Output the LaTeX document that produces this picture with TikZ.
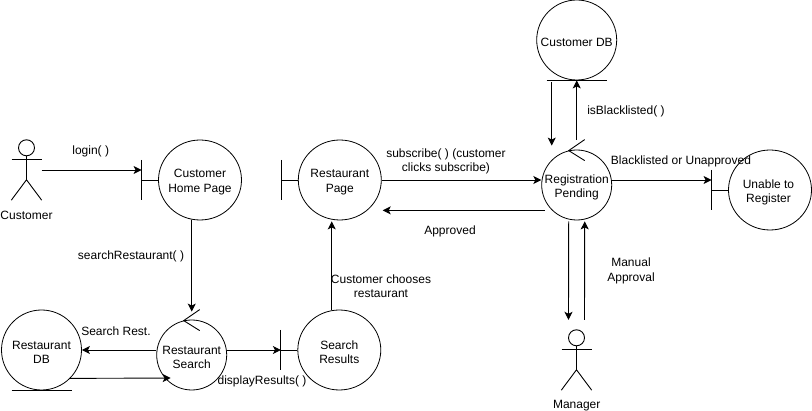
\documentclass[tikz,border=0pt]{standalone}
\usepackage{fontspec}
\setmainfont{Liberation Sans}
\usetikzlibrary{arrows.meta,calc,shapes.geometric}
\tikzset{
  lbl/.style={inner sep=0pt,align=center,yshift=-1pt,font=\fontsize{12}{14.4}\selectfont},
  ent/.style={circle,draw=black,line width=0.8pt,inner sep=0pt,minimum size=80pt},
  bnd/.style={ellipse,draw=black,line width=0.8pt,inner sep=0pt,minimum width=83pt,minimum height=80pt},
  ctl/.style={ent,minimum size=70pt},
  bar/.style={line width=0.9pt},
  flow/.style={line width=0.9pt,-{Stealth[length=8pt,width=8pt,inset=2pt]}},
  actorbox/.style={inner sep=0pt,minimum width=30pt,minimum height=60pt},
  txt/.style={label={[lbl,yshift=-1.2pt]center:#1}},
  txtleft/.style={label={[lbl,yshift=-1.2pt,xshift=-1.5pt]center:#1}},
}
\newcommand{\stickman}[1]{%
  \draw[bar] ($(#1.north)+(0,8)$) circle (8pt);
  \draw[bar] ($(#1.north)+(0,16)$) -- ($(#1.north)+(0,40)$);
  \draw[bar] ($(#1.north)+(-15,20)$) -- ($(#1.north)+(15,20)$);
  \draw[bar] (#1.south west) -- ($(#1.north)+(0,40)$) -- (#1.south east);
}
\newcommand{\boundary}[2]{%
  \coordinate (#1) at ($(#2.west)+(-16.5,0)$);
  \draw[bar] ($(#1)+(0,-20)$) -- ($(#1)+(0,20)$);
  \draw[bar] (#1) -- (#2.west);
}
\newcommand{\ticks}[1]{%
  \draw[bar] ($(#1.north)+(8,-10)$) -- ($(#1.north)+(-8,1)$) -- ($(#1.north)+(8,11)$);
}
\begin{document}
\begin{tikzpicture}[x=1pt,y=-1pt]
\useasboundingbox (0,0) rectangle (812,411);
% entities
\node[bnd,txt={Customer\\Home Page}] (chp) at (200,180) {};
\node[bnd,txt={Restaurant\\Page}] (rpage) at (339.8,180) {};
\node[bnd,txt={Search\\Results}] (sres) at (339.3,350) {};
\node[ent,txt={Restaurant\\DB}] (rdb) at (41.5,350) {};
\node[ent,txt={Customer DB}] (cdb) at (576.7,40) {};
\node[bnd,txtleft={Unable to\\Register}] (unable) at (770,190) {};
\node[ctl,txt={Restaurant\\Search}] (rsearch) at (191.7,355) {};
\node[ctl,txt={Registration\\Pending}] (regp) at (576.7,185) {};
\node[actorbox] (cust) at (26.5,170) {};
\node[actorbox] (mgr) at (576.5,360) {};
\stickman{cust}
\stickman{mgr}
\boundary{bchp}{chp}
\boundary{brpage}{rpage}
\boundary{bsres}{sres}
\boundary{bunable}{unable}
\ticks{rsearch}
\ticks{regp}
\draw[bar] ($(rdb.south)+(-30,0)$) -- ($(rdb.south)+(30,0)$);
\draw[bar] ($(cdb.south)+(-30,0)$) -- ($(cdb.south)+(30,0)$);
% connectors
\draw[flow] (cust.east) -- (bchp |- cust.east);
\draw[flow] ([xshift=-8.3pt]chp.south) -- ([yshift=8pt]rsearch.north);
\draw[flow] (rsearch.west |- rdb.east) -- (rdb.east);
\draw[flow] ($(rdb.south)+(28,-12)$) -- ($(rsearch.south west)+(4,-2)$);
\draw[flow] (rsearch.east |- bsres) -- (bsres);
\draw[flow] ([xshift=-7.6pt]sres.north) -- ([xshift=-8.1pt,yshift=-1pt]rpage.south);
\draw[flow] (rpage.east) -- (regp.west |- rpage.east);
\draw[flow] ([xshift=-32pt,yshift=10pt]regp.south) -- ([xshift=1pt,yshift=10pt]rpage.east |- rpage.south);
\draw[flow] (regp.east |- bchp) -- (bunable |- bchp);
\draw[flow] ([xshift=-25pt,yshift=-2pt]cdb.south) -- ([xshift=-25pt,yshift=4pt]regp.north);
\draw[flow] ([yshift=10pt]regp.north) -- (cdb.south);
\draw[flow] ([xshift=-8pt,yshift=-1pt]regp.south) -- ([xshift=-8pt,yshift=10pt]mgr.north);
\draw[flow] ([xshift=8pt,yshift=10pt]mgr.north) -- ([xshift=8pt,yshift=-1pt]regp.south);
% labels
\node[lbl] (t1) at (26.5,214.5) {Customer};
\node[lbl] (t2) at (90.7,150.5) {login( )};
\node[lbl] (t3) at (131,255.5) {searchRestaurant( )};
\node[lbl] (t4) at (116,330) {Search Rest.};
\node[lbl] (t5) at (262,380) {displayResults( )};
\node[lbl] (t6) at (381,285.5) {Customer chooses\\restaurant};
\node[lbl] (t7) at (446,160.5) {subscribe( ) (customer\\clicks subscribe)};
\node[lbl] (t8) at (450,230) {Approved};
\node[lbl] (t9) at (626,110.5) {isBlacklisted( )};
\node[lbl] (t10) at (681,160) {Blacklisted or Unapproved};
\node[lbl] (t11) at (631,270) {Manual\\Approval};
\node[lbl] (t12) at (576.7,405) {Manager};
\end{tikzpicture}
\end{document}
